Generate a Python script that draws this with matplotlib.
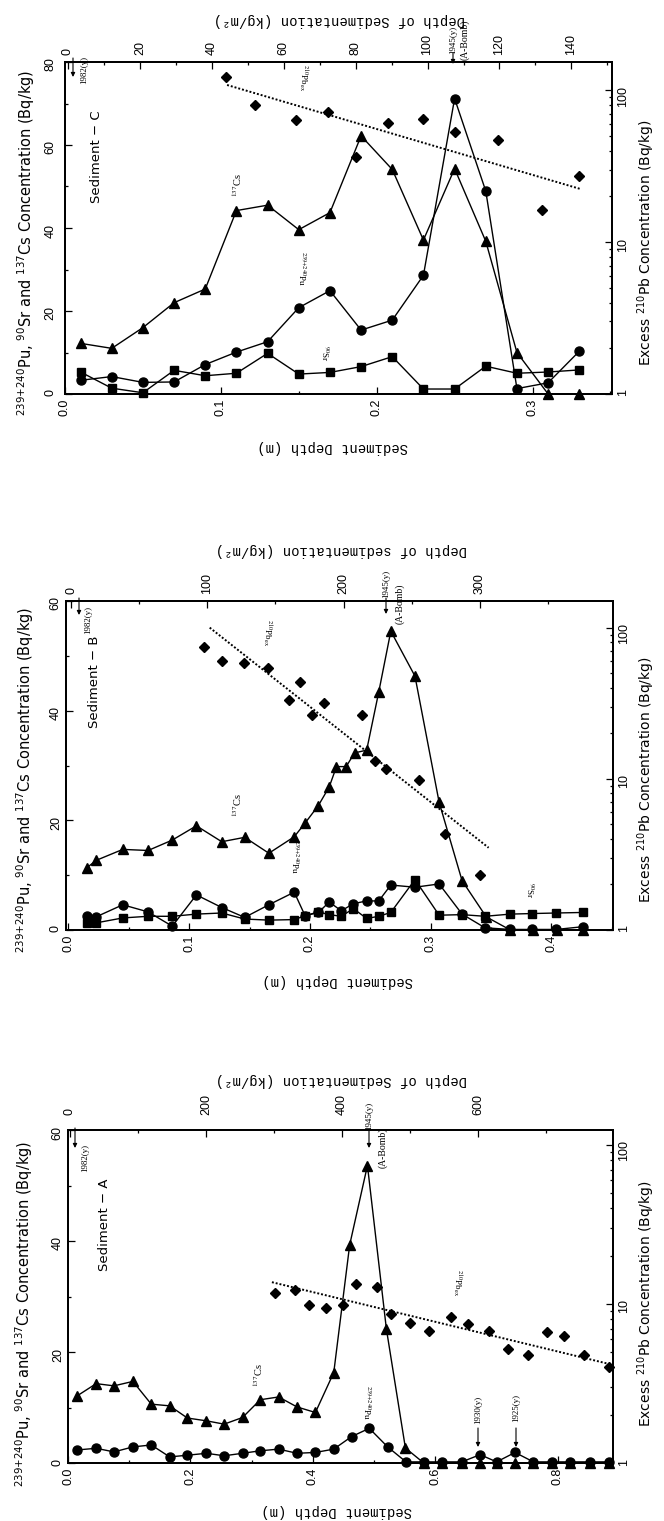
import matplotlib
matplotlib.use('Agg')
import matplotlib.pyplot as plt
from matplotlib.patches import FancyArrowPatch
from matplotlib.ticker import MultipleLocator, FixedLocator, NullFormatter, FuncFormatter, LogLocator

plt.rcParams['font.family'] = ['Liberation Sans', 'DejaVu Sans']

W, H = 664, 1521
SANS = ['DejaVu Sans']
SERIF = ['Liberation Serif', 'DejaVu Serif']
MONO = ['Liberation Mono', 'DejaVu Sans Mono']

# ------------------ Sediment-C (top panel)
c_depth = [0.01, 0.03, 0.05, 0.07, 0.09, 0.11, 0.13, 0.15, 0.17, 0.19, 0.21, 0.23, 0.25, 0.27, 0.29, 0.31, 0.33]
c_cs = [12.2, 11.0, 16.0, 22.0, 25.3, 44.2, 45.5, 39.6, 43.7, 62.2, 54.1, 37.1, 54.3, 36.8, 10.0, 0.0, 0.0]
c_pu = [3.3, 4.2, 2.8, 2.9, 7.1, 10.1, 12.6, 20.8, 24.9, 15.4, 17.8, 28.6, 71.2, 48.9, 1.3, 2.7, 10.3]
c_sr = [5.3, 1.4, 0.3, 5.7, 4.4, 5.0, 9.8, 4.8, 5.2, 6.6, 9.0, 1.2, 1.2, 6.7, 5.0, 5.3, 5.8]
c_pb_depth = [0.103, 0.122, 0.148, 0.169, 0.187, 0.207, 0.230, 0.250, 0.278, 0.306, 0.330]
c_pb = [121, 79.5, 63.4, 72, 36.5, 60.6, 64.8, 52.8, 47, 16.2, 27.3]
c_fit_depth = [0.104, 0.331]
c_fit = [108, 22.3]

# ------------------ Sediment-B (middle panel)
b_cs_depth = [0.015, 0.023, 0.045, 0.066, 0.086, 0.106, 0.127, 0.146, 0.166, 0.187, 0.196, 0.207, 0.216,
              0.222, 0.230, 0.237, 0.247, 0.257, 0.267, 0.287, 0.307, 0.326, 0.346, 0.366, 0.385, 0.405, 0.426]
b_cs = [11.3, 12.7, 14.7, 14.5, 16.4, 19.0, 16.1, 16.9, 14.0, 17.0, 19.5, 22.7, 26.1,
        29.8, 29.8, 32.3, 32.8, 43.4, 54.5, 46.3, 23.3, 9.0, 2.4, 0, 0, 0, 0]
b_depth = [0.015, 0.023, 0.045, 0.066, 0.086, 0.106, 0.127, 0.146, 0.166, 0.187, 0.196, 0.207, 0.216,
           0.226, 0.236, 0.247, 0.257, 0.267, 0.287, 0.307, 0.326, 0.345, 0.366, 0.384, 0.404, 0.426]
b_pu = [2.6, 2.4, 4.6, 3.3, 0.7, 6.4, 4.1, 2.3, 4.6, 6.9, 2.6, 3.2, 5.1,
        3.5, 4.8, 5.3, 5.3, 8.2, 7.8, 8.4, 2.9, 0.4, 0.1, 0.1, 0.1, 0.6]
b_sr = [1.2, 1.3, 2.2, 2.5, 2.5, 2.9, 3.1, 2.0, 1.8, 1.9, 2.6, 3.3, 2.8,
        2.5, 3.9, 2.1, 2.5, 3.2, 9.2, 2.7, 2.8, 2.5, 2.9, 3.0, 3.1, 3.2]
b_pb_depth = [0.112, 0.127, 0.145, 0.165, 0.183, 0.192, 0.202, 0.212, 0.243, 0.254, 0.263, 0.290, 0.312, 0.341]
b_pb = [74, 60, 58.7, 54, 33.3, 43.6, 26.3, 31.8, 26.6, 13.1, 11.6, 9.8, 4.32, 2.3]
b_fit_depth = [0.117, 0.348]
b_fit = [100, 3.5]

# ------------------ Sediment-A (bottom panel)
a_cs_depth = [0.015, 0.046, 0.075, 0.106, 0.136, 0.166, 0.195, 0.226, 0.255, 0.285, 0.314, 0.344, 0.374, 0.404, 0.434,
              0.460, 0.489, 0.520, 0.551, 0.581, 0.611, 0.643, 0.673, 0.700, 0.730, 0.760, 0.790, 0.820, 0.852, 0.883]
a_cs = [12.1, 14.3, 13.9, 14.7, 10.6, 10.3, 8.1, 7.6, 7.0, 8.2, 11.4, 11.9, 10.1, 9.1, 16.3,
        39.3, 53.6, 24.1, 2.7, 0, 0, 0, 0, 0, 0, 0, 0, 0, 0, 0]
a_pu_depth = [0.015, 0.046, 0.075, 0.106, 0.136, 0.166, 0.195, 0.226, 0.255, 0.285, 0.314, 0.344, 0.374, 0.404, 0.434,
              0.463, 0.492, 0.522, 0.552, 0.581, 0.611, 0.643, 0.673, 0.700, 0.730, 0.760, 0.790, 0.820, 0.852, 0.883]
a_pu = [2.35, 2.65, 2.0, 2.9, 3.25, 1.1, 1.4, 1.75, 1.3, 1.75, 2.2, 2.5, 1.75, 1.9, 2.5,
        4.75, 6.25, 2.9, 0.2, 0.2, 0.2, 0.2, 1.5, 0.2, 1.9, 0.2, 0.2, 0.2, 0.2, 0.2]
a_pb_depth = [0.338, 0.370, 0.394, 0.421, 0.449, 0.471, 0.504, 0.528, 0.558, 0.590,
              0.626, 0.653, 0.688, 0.719, 0.751, 0.782, 0.810, 0.843, 0.883]
a_pb = [11.7, 12.2, 9.9, 9.4, 9.9, 13.4, 12.7, 8.7, 7.6, 6.75, 8.3, 7.5, 6.75, 5.2, 4.8, 6.7, 6.3, 4.8, 4.0]
a_fit_depth = [0.333, 0.883]
a_fit = [13.7, 4.2]

fig = plt.figure(figsize=(W / 100, H / 100), dpi=100)


def ftext(x, y, s, rot=0, size=9, family=SANS, **kw):
    fig.text(x / W, 1 - y / H, s, rotation=rot, fontsize=size, family=family,
             ha='center', va='center', **kw)


def farrow(x, y0, y1):
    fig.add_artist(FancyArrowPatch((x / W, 1 - y0 / H), (x / W, 1 - y1 / H), transform=fig.transFigure,
                                   arrowstyle='-|>', mutation_scale=6, lw=0.8, color='k',
                                   shrinkA=0, shrinkB=0))


def note(x, y, s, rot=90, size=6.5):
    ftext(x, y, s, rot=rot, size=size, family=SERIF, math_fontfamily='stix')


def panel(box, xlim, ymax, rmax, tlim, xstep, tstep, ypad, tpad):
    l, t, r, b = box
    ax = fig.add_axes([l / W, 1 - b / H, (r - l) / W, (b - t) / H])
    ax.set_xlim(xlim)
    ax.set_ylim(0, ymax)
    ax.xaxis.set_major_locator(MultipleLocator(xstep))
    ax.xaxis.set_minor_locator(MultipleLocator(xstep / 2))
    ax.xaxis.set_major_formatter(FuncFormatter(lambda v, p: '%.1f' % v))
    ax.yaxis.set_major_locator(MultipleLocator(20))
    ax.yaxis.set_minor_locator(MultipleLocator(10))

    axr = ax.twinx()
    axr.set_yscale('log')
    axr.set_ylim(1, rmax)
    axr.yaxis.set_major_locator(FixedLocator([1, 10, 100]))
    axr.yaxis.set_major_formatter(FuncFormatter(lambda v, p: '%d' % round(v)))
    axr.yaxis.set_minor_locator(LogLocator(subs=range(2, 10)))
    axr.yaxis.set_minor_formatter(NullFormatter())

    axt = ax.twiny()
    axt.set_xlim(tlim)
    axt.xaxis.set_major_locator(MultipleLocator(tstep))
    axt.xaxis.set_minor_locator(MultipleLocator(tstep / 2))

    for a in (ax, axr, axt):
        a.tick_params(which='both', direction='in', labelsize=9, width=0.9)
        a.tick_params(which='major', length=5)
        a.tick_params(which='minor', length=2.5)
        for s in a.spines.values():
            s.set_linewidth(1.2)
    ax.tick_params(axis='x', labelrotation=90, pad=3.5)
    ax.tick_params(axis='y', labelrotation=90, pad=ypad)
    axr.tick_params(axis='y', labelrotation=90, pad=4)
    axt.tick_params(axis='x', labelrotation=90, pad=tpad)
    return ax, axr


def series(ax, x, y, m, ms):
    ax.plot(x, y, '-', marker=m, color='k', ms=ms, lw=1.0, clip_on=False)


def lead(axr, x, y, fx, fy):
    axr.plot(x, y, 'D', color='k', ms=5.5, ls='none', clip_on=False)
    axr.plot(fx, fy, color='k', lw=1.4, ls=(0, (1, 1)))


ylab = r'$^{239{+}240}$Pu, $^{90}$Sr and $^{137}$Cs Concentration (Bq/kg)'
rlab = r'Excess $^{210}$Pb Concentration (Bq/kg)'

# ---------------- panel C
ax, axr = panel((65, 62, 612, 394), (0, 0.351), 80, 153, (-0.83, 151.3), 0.1, 20, 6, 5)
series(ax, c_depth, c_cs, '^', 7)
series(ax, c_depth, c_pu, 'o', 6.5)
series(ax, c_depth, c_sr, 's', 5.5)
lead(axr, c_pb_depth, c_pb, c_fit_depth, c_fit)
ftext(26, 243, ylab, rot=90, size=10.5)
ftext(646, 243, rlab, rot=90, size=10)
ftext(339, 20, 'Depth of Sedimentation (kg/m²)', rot=180, size=10, family=MONO)
ftext(333, 447, 'Sediment Depth (m)', rot=180, size=10, family=MONO)
ftext(96, 157, 'Sediment − C', rot=90, size=9.5)
note(84, 70, '1982(y)')
farrow(73, 58, 77)
note(237, 185, r'$^{137}$Cs', size=7.5)
note(302, 269, r'$^{239{+}240}$Pu', rot=270)
note(303, 78, r'$^{210}$Pb$_{\rm ex}$', rot=270)
note(325, 353, r'$^{90}$Sr', rot=270)
note(453, 40, '1945(y)')
farrow(453, 53, 64)
note(465, 40, '(A-Bomb)', size=7)

# ---------------- panel B
ax, axr = panel((66, 601, 613, 930), (-0.002, 0.451), 60, 150, (-3.7, 397.8), 0.1, 100, 3, 5)
series(ax, b_cs_depth, b_cs, '^', 7)
series(ax, b_depth, b_pu, 'o', 6.5)
series(ax, b_depth, b_sr, 's', 5.5)
lead(axr, b_pb_depth, b_pb, b_fit_depth, b_fit)
ftext(25, 780, ylab, rot=90, size=10.5)
ftext(646, 780, rlab, rot=90, size=10)
ftext(341, 550, 'Depth of sedimentation (kg/m²)', rot=180, size=10, family=MONO)
ftext(338, 981, 'Sediment Depth (m)', rot=180, size=10, family=MONO)
ftext(95, 682, 'Sediment − B', rot=90, size=9.5)
note(88, 620, '1982(y)')
farrow(79, 598, 615)
note(237, 805, r'$^{137}$Cs', size=7.5)
note(295, 857, r'$^{239{+}240}$Pu', rot=270)
note(267, 633, r'$^{210}$Pb$_{\rm ex}$', rot=270)
note(530, 890, r'$^{90}$Sr', rot=270)
note(386, 584, '1945(y)')
farrow(386, 598, 614)
note(400, 604, '(A-Bomb)', size=7)

# ---------------- panel A
ax, axr = panel((68, 1130, 613, 1463), (0, 0.89), 60, 124, (-2.9, 798), 0.2, 200, 3, 11)
series(ax, a_cs_depth, a_cs, '^', 7)
series(ax, a_pu_depth, a_pu, 'o', 6.5)
lead(axr, a_pb_depth, a_pb, a_fit_depth, a_fit)
ftext(24, 1314, ylab, rot=90, size=10.5)
ftext(646, 1304, rlab, rot=90, size=10)
ftext(341, 1080, 'Depth of Sedimentation (kg/m²)', rot=180, size=10, family=MONO)
ftext(337, 1511, 'Sediment Depth (m)', rot=180, size=10, family=MONO)
ftext(104, 1225, 'Sediment − A', rot=90, size=9.5)
note(85, 1158, '1982(y)')
farrow(75, 1128, 1148)
note(258, 1375, r'$^{137}$Cs', size=7.5)
note(367, 1403, r'$^{239{+}240}$Pu', rot=270)
note(457, 1283, r'$^{210}$Pb$_{\rm ex}$', rot=270)
note(369, 1116, '1945(y)')
farrow(369, 1131, 1148)
note(383, 1148, '(A-Bomb)', size=7)
note(478, 1410, '1930(y)')
farrow(478, 1428, 1447)
note(516, 1408, '1925(y)')
farrow(516, 1428, 1447)

fig.savefig('out.png', dpi=100)
plt.close(fig)
